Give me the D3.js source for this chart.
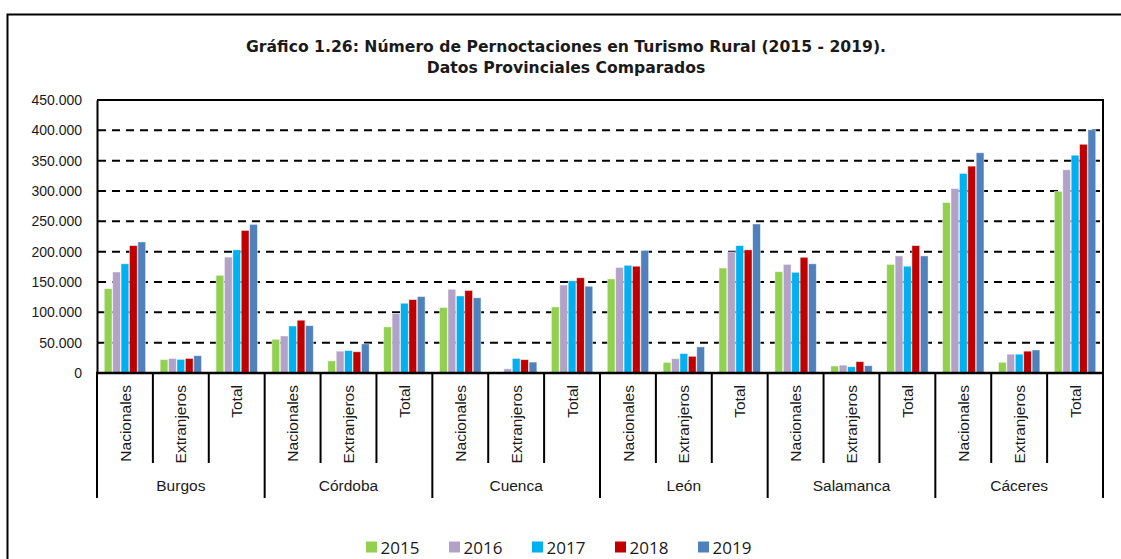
<!DOCTYPE html>
<html>
<head>
<meta charset="utf-8">
<script src="https://cdn.jsdelivr.net/npm/d3@7"></script>
<style>
  html, body { margin: 0; padding: 0; background: #fff; }
  svg { display: block; }
</style>
</head>
<body>
<svg id="chart" width="1121" height="559"></svg>
<script>
// ---------- data ----------
const titleLines = [
  "Gráfico 1.26: Número de Pernoctaciones en Turismo Rural (2015 - 2019).",
  "Datos Provinciales Comparados"
];
const provinces = ["Burgos", "Córdoba", "Cuenca", "León", "Salamanca", "Cáceres"];
const subcats = ["Nacionales", "Extranjeros", "Total"];
const years = ["2015", "2016", "2017", "2018", "2019"];
const colors = ["#92D050", "#B3A2C7", "#00B0F0", "#C00000", "#4F81BD"];
const yTicks = [0, 50000, 100000, 150000, 200000, 250000, 300000, 350000, 400000, 450000];

// values in order: province x (Nacionales, Extranjeros, Total)
const v2015 = [139000, 22000, 161000, 55500, 20000, 76000, 108000, null, 109000, 155000, 17500, 173000, 167000, 11500, 179000, 281000, 17600, 299500];
const v2016 = [166500, 24000, 191000, 61000, 36000, 98000, 138000, 7000, 145000, 174000, 23600, 199500, 179000, 13000, 193000, 304000, 31000, 335000];
const v2017 = [180000, 22500, 203000, 77500, 37000, 115000, 127000, 24000, 152000, 177500, 32000, 210000, 166000, 10400, 176000, 329000, 31000, 359000];
const v2018 = [210000, 24000, 235000, 87000, 35000, 121000, 136000, 22000, 157000, 176000, 27500, 203000, 190700, 18700, 210000, 341000, 36000, 377000];
const v2019 = [216000, 28500, 245000, 78000, 48000, 126000, 124000, 18000, 143000, 202000, 43000, 245600, 180000, 12000, 193000, 363000, 38000, 401000];
const series = [v2015, v2016, v2017, v2018, v2019];

// ---------- layout ----------
const svg = d3.select("#chart");
const plot = { left: 97, right: 1103, top: 100, bottom: 373 };
const fontMain = "'Liberation Sans', Arial, sans-serif";
const fontLegend = "'Open Sans', 'Noto Sans', sans-serif";
const fontTitle = "'DejaVu Sans', Verdana, sans-serif";

// outer frame
svg.append("rect")
  .attr("x", 7.5).attr("y", 14.5)
  .attr("width", 1130).attr("height", 560)
  .attr("fill", "#fff").attr("stroke", "#000").attr("stroke-width", 2);

// title
const title = svg.append("g");
const titleY = [52, 73];
const titleTexts = titleLines.map((t, i) => title.append("text")
  .attr("x", 566).attr("y", titleY[i])
  .attr("text-anchor", "middle")
  .attr("font-family", fontTitle)
  .attr("font-weight", "bold")
  .attr("font-size", 14)
  .attr("fill", "#1a1a1a")
  .text(t));
// fit first line to the reference width
const w0 = titleTexts[0].node().getComputedTextLength();
const fs = Math.min(16, 14 * 641 / w0);
titleTexts.forEach(t => t.attr("font-size", fs));

// scales
const cats = [];
provinces.forEach(p => subcats.forEach(s => cats.push(p + "|" + s)));
const x0 = d3.scaleBand().domain(cats).range([plot.left, plot.right]).padding(0);
const bw = x0.bandwidth();
const x1 = d3.scaleBand().domain(years).range([bw * 0.13, bw * 0.87]).paddingInner(0.08);
const y = d3.scaleLinear().domain([0, 450000]).range([plot.bottom, plot.top]);

// gridlines
svg.append("g").selectAll("line")
  .data(yTicks.filter(t => t > 0 && t < 450000))
  .join("line")
  .attr("x1", plot.left + 1).attr("x2", plot.right)
  .attr("y1", d => y(d)).attr("y2", d => y(d))
  .attr("stroke", "#000").attr("stroke-width", 2)
  .attr("stroke-dasharray", "8,6");

// bars
const barData = [];
cats.forEach((c, i) => years.forEach((yr, j) => {
  const v = series[j][i];
  if (v != null) barData.push({ cat: c, year: yr, value: v, color: colors[j] });
}));
svg.append("g").selectAll("rect")
  .data(barData)
  .join("rect")
  .attr("x", d => x0(d.cat) + x1(d.year))
  .attr("width", x1.bandwidth())
  .attr("y", d => y(d.value))
  .attr("height", d => y(0) - y(d.value))
  .attr("fill", d => d.color)
  .attr("stroke", "#ffffff").attr("stroke-opacity", 0.55).attr("stroke-width", 0.8);

// plot border: top and right
svg.append("line").attr("x1", plot.left).attr("x2", plot.right + 1)
  .attr("y1", plot.top).attr("y2", plot.top)
  .attr("stroke", "#000").attr("stroke-width", 2);
svg.append("line").attr("x1", plot.right).attr("x2", plot.right)
  .attr("y1", plot.top).attr("y2", plot.bottom)
  .attr("stroke", "#000").attr("stroke-width", 2);

// y axis
const fmt = d3.formatLocale({ decimal: ",", thousands: ".", grouping: [3], currency: ["", "€"] }).format(",d");
const yAxis = svg.append("g")
  .attr("transform", `translate(${plot.left},0)`)
  .call(d3.axisLeft(y).tickValues(yTicks).tickSize(0).tickSizeOuter(0).tickPadding(15).tickFormat(fmt));
yAxis.select(".domain").attr("stroke", "#000").attr("stroke-width", 2);
yAxis.selectAll("text")
  .attr("font-family", fontMain).attr("font-size", 14).attr("fill", "#1a1a1a");

// x axis line
svg.append("line").attr("x1", plot.left - 1).attr("x2", plot.right + 1)
  .attr("y1", plot.bottom).attr("y2", plot.bottom)
  .attr("stroke", "#000").attr("stroke-width", 2.5);

// category separators
const sepData = cats.map((c, i) => ({ x: x0(c), group: i % subcats.length === 0 }));
sepData.push({ x: plot.right, group: true });
svg.append("g").selectAll("line")
  .data(sepData)
  .join("line")
  .attr("x1", d => d.x).attr("x2", d => d.x)
  .attr("y1", plot.bottom).attr("y2", d => d.group ? 498 : 463)
  .attr("stroke", "#000").attr("stroke-width", 2);

// inner category labels (rotated)
svg.append("g").selectAll("text")
  .data(cats)
  .join("text")
  .attr("transform", d => `translate(${x0(d) + bw / 2},385) rotate(-90)`)
  .attr("text-anchor", "end")
  .attr("dy", "0.36em")
  .attr("font-family", fontMain).attr("font-size", 15.5).attr("fill", "#1a1a1a")
  .text(d => d.split("|")[1]);

// province labels
svg.append("g").selectAll("text")
  .data(provinces)
  .join("text")
  .attr("x", p => {
    const a = x0(p + "|" + subcats[0]);
    const b = x0(p + "|" + subcats[subcats.length - 1]) + bw;
    return (a + b) / 2;
  })
  .attr("y", 491)
  .attr("text-anchor", "middle")
  .attr("font-family", fontMain).attr("font-size", 15.5).attr("fill", "#1a1a1a")
  .text(p => p);

// legend
const legend = svg.append("g");
const legX = d3.scaleBand().domain(years).range([366, 366 + 83 * years.length]);
years.forEach((yr, j) => {
  const g = legend.append("g").attr("transform", `translate(${legX(yr)},0)`);
  g.append("rect").attr("x", 0).attr("y", 541.5).attr("width", 11).attr("height", 11)
    .attr("fill", colors[j]);
  g.append("text").attr("x", 14.5).attr("y", 553.5)
    .attr("font-family", fontLegend).attr("font-size", 17).attr("fill", "#1a1a1a")
    .text(yr);
});
</script>
</body>
</html>
